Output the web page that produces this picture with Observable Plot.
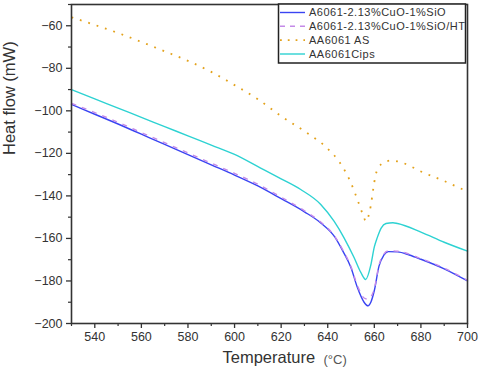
<!DOCTYPE html>
<html><head><meta charset="utf-8">
<script src="https://cdn.jsdelivr.net/npm/d3@7"></script>
<script src="https://cdn.jsdelivr.net/npm/@observablehq/plot@0.6"></script>
<style>
html,body{margin:0;padding:0;background:#fff;}
#chart{width:480px;height:374px;position:relative;}
</style></head><body><div id="chart"></div>
<script>
const seriesNames = ["A6061-2.13%CuO-1%SiO", "A6061-2.13%CuO-1%SiO/HT", "AA6061 AS", "AA6061Cips"];
const seriesColors = ["#3a44f2", "#c48ae8", "#e3a21c", "#2dd2d2"];

const sioTemp = [530,540,550,560,570,580,590,600,610,620,630,637,643,646.5,650,652.7,655.6,657.3,658.5,660,662,664,666,670,675,680,690,700];
const sioFlow = [-97,-101.6,-106.2,-111,-115.8,-120.6,-125.4,-130.2,-135.3,-141.3,-147.5,-152.7,-159.3,-166,-173.8,-183,-190,-191.7,-190,-184.5,-173,-168,-166.2,-166.3,-167.8,-169.8,-174.3,-180];

const htTemp = [530,540,550,560,570,580,590,600,610,620,630,637,643,646.5,650,652.7,655.6,657,658.5,660,662,664,666,670,680,690,700];
const htFlow = [-96.5,-100.8,-105.4,-110.2,-115,-119.8,-124.6,-129.4,-134.5,-140.6,-147,-152.3,-159,-165.5,-173.3,-182,-188,-188.5,-187.5,-183.5,-172.5,-167.5,-165.8,-166,-169.5,-174,-179.7];

const asTemp = [530,540,550,560,570,580,590,600,610,620,630,640,645,650,653,655,656.5,657.5,658.5,659.5,660.5,662,664,667,671,675,680,690,700];
const asFlow = [-56,-59.6,-63.4,-67.6,-72,-76.5,-81.7,-87.9,-94.5,-102.5,-109.6,-117.8,-124,-134,-142.5,-148.5,-152,-149.5,-144.5,-137,-130.5,-126.5,-124.3,-123.4,-124,-125.8,-128.5,-133,-138];

const cipsTemp = [530,540,550,560,570,580,590,600,611,620,628.4,637,642.7,647,651.3,654.2,656.3,658.5,660,661.3,663,665,668,670,680,690,700];
const cipsFlow = [-90,-94.4,-98.7,-103.1,-107.4,-111.8,-116.1,-120.5,-126.8,-132,-137,-144,-151.9,-159.7,-169,-176,-179.3,-172.5,-164,-159.5,-155,-153,-152.6,-153,-157,-161.8,-166];

const xTicks = [540,560,580,600,620,640,660,680,700];
const xMinor = [530,550,570,590,610,630,650,670,690];
const yTicks = [-200,-180,-160,-140,-120,-100,-80,-60];
const yMinor = [-190,-170,-150,-130,-110,-90,-70,-50];

const rows = (temps, flows, name) => temps.map((t, i) => ({temp: t, flow: flows[i], series: name}));
const sioRows = rows(sioTemp, sioFlow, seriesNames[0]);
const htRows = rows(htTemp, htFlow, seriesNames[1]);
const asRows = rows(asTemp, asFlow, seriesNames[2]);
const cipsRows = rows(cipsTemp, cipsFlow, seriesNames[3]);

const font = "'Liberation Sans', Arial, sans-serif";

const plot = Plot.plot({
  width: 480,
  height: 374,
  marginTop: 4,
  marginBottom: 51,
  marginLeft: 71,
  marginRight: 13,
  style: {fontFamily: font, fontSize: "12.5px", color: "#333", background: "#fff"},
  x: {domain: [530, 700]},
  y: {domain: [-200, -50]},
  marks: [
    Plot.line(cipsRows, {x: "temp", y: "flow", stroke: seriesColors[3], strokeWidth: 1.4, curve: "monotone-x"}),
    Plot.line(asRows, {x: "temp", y: "flow", stroke: seriesColors[2], strokeWidth: 1.8, strokeDasharray: "1.8,7", strokeLinecap: "butt", curve: "monotone-x"}),
    Plot.line(sioRows, {x: "temp", y: "flow", stroke: seriesColors[0], strokeWidth: 1.4, curve: "monotone-x"}),
    Plot.line(htRows, {x: "temp", y: "flow", stroke: seriesColors[1], strokeWidth: 1.4, strokeDasharray: "5,6", strokeLinecap: "butt", curve: "monotone-x"}),
    Plot.frame({stroke: "#333", strokeWidth: 1.6}),
    Plot.axisX(xTicks, {label: null, tickSize: 5, tickPadding: 4, fontSize: 12.5, fill: "#333", strokeWidth: 1.3}),
    Plot.axisX(xMinor, {label: null, tickSize: 3, tickFormat: () => "", strokeWidth: 1.2}),
    Plot.axisY(yTicks, {label: null, tickSize: 5, tickPadding: 4, fontSize: 12.5, fill: "#333", strokeWidth: 1.3}),
    Plot.axisY(yMinor, {label: null, tickSize: 3, tickFormat: () => "", strokeWidth: 1.2}),
    Plot.text(["Heat flow (mW)"], {frameAnchor: "left", dx: -62, dy: -9, rotate: -90, fontSize: 16.5, fill: "#333"}),
    Plot.text(["Temperature"], {frameAnchor: "bottom-left", dx: 151, dy: 39, textAnchor: "start", fontSize: 16.5, fill: "#333"}),
    Plot.text(["(°C)"], {frameAnchor: "bottom-left", dx: 252, dy: 40, textAnchor: "start", fontSize: 13, fill: "#555"})
  ]
});

const svg = d3.select(plot);
const lg = svg.append("g").attr("font-family", font).attr("font-size", 11).attr("text-anchor", "start");
lg.append("rect").attr("x", 278.5).attr("y", 4).attr("width", 187).attr("height", 59)
  .attr("fill", "#fff").attr("stroke", "#222").attr("stroke-width", 1.5);
const dashes = [null, "5,5", "1.8,6", null];
const widths = [1.4, 1.4, 1.8, 1.4];
const ly = [12.5, 26.3, 40.2, 54];
seriesNames.forEach((name, i) => {
  lg.append("line").attr("x1", 280).attr("x2", 305).attr("y1", ly[i]).attr("y2", ly[i])
    .attr("stroke", seriesColors[i]).attr("stroke-width", widths[i])
    .attr("stroke-dasharray", dashes[i]);
  lg.append("text").attr("x", 309).attr("y", ly[i]).attr("dy", "0.35em")
    .attr("text-anchor", "start")
    .attr("fill", "#333").attr("letter-spacing", "0.5px").text(name);
});

document.getElementById("chart").appendChild(plot);
</script>
</body></html>
